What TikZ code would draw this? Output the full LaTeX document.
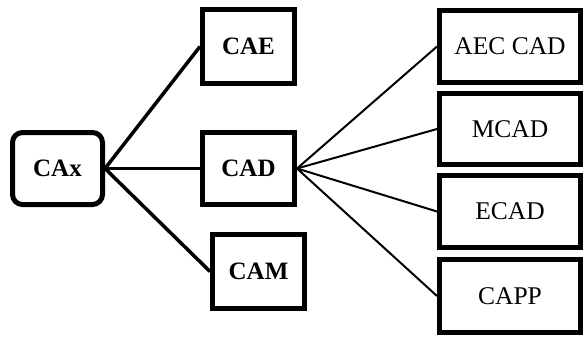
\documentclass[tikz,border=0pt]{standalone}
\usepackage{fontspec}
\setmainfont{Liberation Serif}
\begin{document}
\begin{tikzpicture}[x=1pt,y=-1pt,
  box/.style={draw=black, line width=5pt, fill=white, inner sep=0pt, font=\fontsize{25.5}{28}\selectfont},
  lbox/.style={box, font=\fontsize{25}{28}\selectfont\bfseries, minimum width=92pt, minimum height=74pt},
  rbox/.style={box, minimum width=141pt, minimum height=72pt},
  thick link/.style={line width=3.5pt},
  thin link/.style={line width=2pt}]
\useasboundingbox (0,0) rectangle (585,338);
\node[lbox, rounded corners=10pt, minimum width=90pt, minimum height=72pt] (cax) at (57.5,168.5) {CAx};
\node[lbox] (cae) at (248.5,46.5) {CAE};
\node[lbox, minimum height=72pt] (cad) at (248.5,168.5) {CAD};
\node[lbox] (cam) at (258.5,271.5) {CAM};
\node[rbox] (aec) at (510,46.5) {AEC CAD};
\node[rbox, minimum height=71pt] (mcad) at (510,129) {MCAD};
\node[rbox] (ecad) at (510,211.5) {ECAD};
\node[rbox, minimum height=73pt] (capp) at (510,296) {CAPP};
\draw[thick link] (cax.east) -- (cae.west);
\draw[thick link] (cax.east) -- (cad.west);
\draw[thick link] (cax.east) -- (cam.west);
\draw[thin link] (cad.east) -- (aec.west);
\draw[thin link] (cad.east) -- (mcad.west);
\draw[thin link] (cad.east) -- (ecad.west);
\draw[thin link] (cad.east) -- (capp.west);
\end{tikzpicture}
\end{document}
